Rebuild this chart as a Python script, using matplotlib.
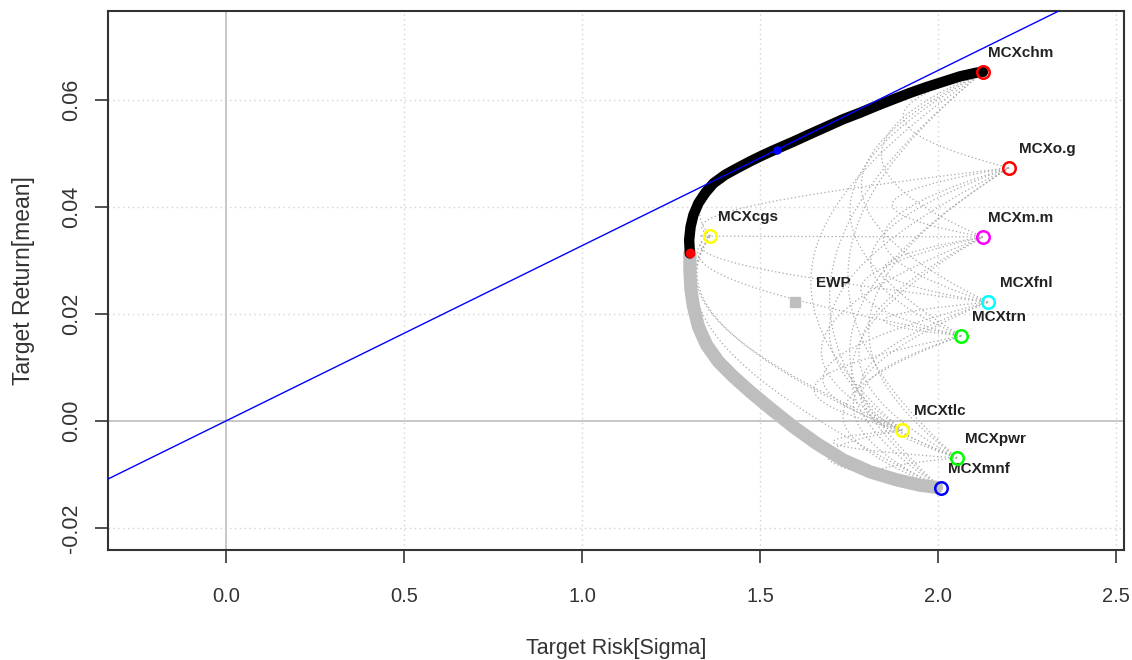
import numpy as np
import matplotlib
matplotlib.use("Agg")
import matplotlib.pyplot as plt

plt.rcParams['font.family'] = ['Liberation Sans', 'DejaVu Sans']

# single assets: risk (sigma) and return (mean)
assets = ['MCXchm', 'MCXo.g', 'MCXm.m', 'MCXcgs', 'MCXfnl',
          'MCXtrn', 'MCXtlc', 'MCXpwr', 'MCXmnf']
asset_sigma = [2.126, 2.199, 2.126, 1.360, 2.140, 2.065, 1.899, 2.053, 2.008]
asset_mean = [0.0652, 0.0473, 0.0344, 0.0346, 0.0222, 0.0159, -0.0017, -0.0069, -0.0125]
asset_color = ['#FF0000', '#FF0000', '#FF00FF', '#FFFF00', '#00FFFF',
               '#00FF00', '#FFFF00', '#00FF00', '#0000FF']

# pairwise correlations (upper triangle, row by row in asset order)
pair_corr = [0.55, 0.50, 0.45, 0.40, 0.40, 0.35, 0.40, 0.35,
             0.50, 0.45, 0.45, 0.45, 0.40, 0.45, 0.40,
             0.45, 0.50, 0.45, 0.40, 0.45, 0.45,
             0.45, 0.45, 0.50, 0.45, 0.45,
             0.55, 0.40, 0.45, 0.45,
             0.40, 0.50, 0.45,
             0.50, 0.50,
             0.60]

# efficient part of the frontier (min variance -> top)
eff_sigma = [1.303, 1.301, 1.305, 1.313, 1.327, 1.346, 1.369, 1.402, 1.435, 1.472,
             1.509, 1.542, 1.594, 1.640, 1.687, 1.734, 1.781, 1.828, 1.874, 1.921,
             1.968, 2.015, 2.062, 2.109, 2.126]
eff_mean = [0.0313, 0.0338, 0.0363, 0.0385, 0.0407, 0.0426, 0.0444, 0.0460, 0.0472, 0.0485,
            0.0497, 0.0507, 0.0522, 0.0536, 0.0550, 0.0564, 0.0576, 0.0589, 0.0601, 0.0613,
            0.0624, 0.0634, 0.0644, 0.0651, 0.0652]
# inefficient part (min variance -> bottom)
ineff_sigma = [1.303, 1.303, 1.306, 1.313, 1.327, 1.350, 1.383, 1.425, 1.472, 1.528,
               1.594, 1.659, 1.734, 1.809, 1.884, 1.949, 1.996]
ineff_mean = [0.0313, 0.0282, 0.0245, 0.0214, 0.0176, 0.0142, 0.0111, 0.0083, 0.0055, 0.0024,
              -0.0011, -0.0042, -0.0073, -0.0095, -0.0110, -0.0120, -0.0124]

minvar = (1.303, 0.0313)
tangency = (1.548, 0.0507)
ewp = (1.598, 0.0222)


def pair_curve(i, j, rho):
    w = np.linspace(0, 1, 101)
    si, sj = asset_sigma[i], asset_sigma[j]
    mu = w * asset_mean[i] + (1 - w) * asset_mean[j]
    sd = np.sqrt(w**2 * si**2 + (1 - w)**2 * sj**2 + 2 * w * (1 - w) * rho * si * sj)
    return sd, mu


fig = plt.figure(figsize=(11.32, 6.6), dpi=100)
ax = fig.add_axes([0.0954, 0.1667, 0.8975, 0.8166])
ax.set_xlim(-0.331, 2.522)
ax.set_ylim(-0.0241, 0.0766)

grid = dict(color='#D3D3D3', lw=1, ls=(0, (1, 2.5)), zorder=0)
for x in [0.5, 1.0, 1.5, 2.0, 2.5]:
    ax.axvline(x, **grid)
for y in [-0.02, 0.02, 0.04, 0.06]:
    ax.axhline(y, **grid)
ax.axvline(0, color='#BEBEBE', lw=1.2, zorder=0)
ax.axhline(0, color='#BEBEBE', lw=1.2, zorder=0)

# two asset frontiers
k = 0
n = len(assets)
for i in range(n):
    for j in range(i + 1, n):
        sd, mu = pair_curve(i, j, pair_corr[k])
        ax.plot(sd, mu, color='#A8A8A8', lw=0.9, ls=(0, (1, 2)), zorder=1)
        k += 1

# tangency line through the origin
ax.axline((0, 0), slope=tangency[1] / tangency[0], color='#0000FF', lw=1, zorder=3)

ax.plot(ineff_sigma, ineff_mean, color='#BEBEBE', lw=9.5, solid_capstyle='round',
        solid_joinstyle='round', zorder=2)
ax.plot(eff_sigma, eff_mean, color='black', lw=7.5, solid_capstyle='round',
        solid_joinstyle='round', zorder=2)

ax.plot(*minvar, 'o', color='#FF0000', ms=6, zorder=4)
ax.plot(*tangency, 'o', color='#0000FF', ms=5, zorder=4)
ax.plot(*ewp, 's', color='#BEBEBE', ms=6.5, zorder=4)
ax.annotate('EWP', ewp, xytext=(27.4, 13.7), textcoords='offset points',
            ha='center', va='center', fontsize=11, fontweight='bold', color='#222222')

for name, s, m, c in zip(assets, asset_sigma, asset_mean, asset_color):
    ax.plot(s, m, 'o', mfc='none', mec=c, mew=1.8, ms=9, zorder=5)
    ax.annotate(name, (s, m), xytext=(27.4, 13.7), textcoords='offset points',
                ha='center', va='center', fontsize=11, fontweight='bold', color='#222222')

ax.set_xticks([0.0, 0.5, 1.0, 1.5, 2.0, 2.5])
ax.set_xticklabels(['0.0', '0.5', '1.0', '1.5', '2.0', '2.5'], fontsize=14.5)
ax.set_yticks([-0.02, 0.0, 0.02, 0.04, 0.06])
ax.set_yticklabels(['-0.02', '0.00', '0.02', '0.04', '0.06'], rotation=90, va='center',
                   fontsize=15.5)
ax.tick_params(length=9.5, width=1.2, color='#333333', labelcolor='#333333')
ax.tick_params(axis='x', pad=17)
ax.tick_params(axis='y', pad=9)
for sp in ax.spines.values():
    sp.set_color('#333333')
    sp.set_linewidth(1.5)

ax.set_xlabel('Target Risk[Sigma]', fontsize=15.5, color='#333333', labelpad=23)
ax.set_ylabel('Target Return[mean]', fontsize=16.5, color='#333333', labelpad=19)

fig.savefig('out.png', dpi=100)
